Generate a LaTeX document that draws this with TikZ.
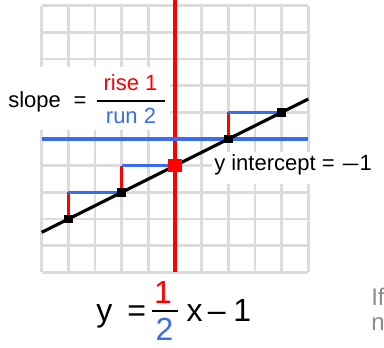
\documentclass[tikz,border=0pt]{standalone}
\usepackage{fontspec}
\setmainfont{Liberation Sans}
\usepackage{tikz}
\usetikzlibrary{positioning}
\usepackage{xcolor}
\definecolor{riseRed}{HTML}{FF0000}
\definecolor{runBlue}{HTML}{3A6BF0}
\definecolor{gridGray}{HTML}{DCDCDC}
\definecolor{noteGray}{HTML}{8C8C8C}

\tikzset{
  pt/.style={fill=black, minimum size=6.5pt, inner sep=0pt},
  hit/.style={fill=riseRed, minimum size=10pt, inner sep=0pt},
  lbl/.style={font=\fontsize{16.5}{18}\selectfont, inner sep=0pt},
  eq/.style={font=\fontsize{24}{26}\selectfont, inner sep=0pt},
  note/.style={font=\fontsize{18}{20}\selectfont, text=noteGray, inner sep=0pt, anchor=base west},
  rise/.style={riseRed, line width=2.3pt},
  run/.style={runBlue, line width=2.3pt},
}

\begin{document}
\begin{tikzpicture}[x=20pt, y=20pt]
    \useasboundingbox (-6.5625,-7.8) rectangle (7.8375,5.2125);
    \clip (-6.5625,-7.8) rectangle (7.8375,5.2125);
    % grid
    \draw[gridGray, line width=2.2pt, step=1] (-5,-5) grid (5,5);
    % white patches behind the labels
    \fill[white] (-6.6,0.3375) rectangle (-0.1875,2.7);
    \fill[white] (1.3875,-1.6875) rectangle (7.9,-0.4875);
    % axes
    \coordinate (ytop) at (0,5.3); \coordinate (ybot) at (0,-5);
    \coordinate (xl) at (-5,0); \coordinate (xr) at (5,0);
    \draw[rise] (ytop)--(ybot);
    \draw[run] (xl)--(xr);
    % points on y = x/2 - 1
    \coordinate (a) at (-4,-3); \coordinate (b) at (-2,-2);
    \coordinate (c) at (0,-1);  \coordinate (d) at (2,0);
    \coordinate (e) at (4,1);
    \coordinate (lstart) at (-5,-3.5); \coordinate (lend) at (5,1.5);
    % rise and run steps
    \draw[rise] (a)--(a |- b); \draw[run] (a |- b)--(b);
    \draw[rise] (b)--(b |- c); \draw[run] (b |- c)--(c);
    \draw[rise] (d)--(d |- e); \draw[run] (d |- e)--(e);
    \draw[line width=2.3pt] (lstart)--(lend);
    \node[pt] (pa) at (a) {}; \node[pt] (pb) at (b) {};
    \node[pt] (pd) at (d) {}; \node[pt] (pe) at (e) {};
    \node[hit] (pc) at (c) {};
    % slope label
    \node[lbl, anchor=base west] (slope) at (-6.26,1.174) {slope\hspace{5pt} =};
    \node[lbl, text=riseRed, anchor=base] (riselbl) at (-1.67,1.8375) {rise 1};
    \node[lbl, text=runBlue, anchor=base] (runlbl) at (-1.65,0.5875) {run 2};
    \draw[line width=2.2pt] (-2.925,1.425)--(-0.375,1.425);
    % intercept label
    \node[lbl, anchor=base west] (icpt) at (1.4625,-1.1625) {y intercept = \hspace{1.5pt}\scalebox{1.27}[1]{–}\hspace{1pt}1};
    % equation
    \node[eq, anchor=base west] (eqy) at (-2.96,-6.85) {y};
    \node[eq, anchor=base west] (eqeq) at (-1.8,-6.85) {=};
    \node[eq, text=riseRed, anchor=base] (eqnum) at (-0.45,-6.15) {1};
    \node[eq, text=runBlue, anchor=base] (eqden) at (-0.39,-7.5375) {2};
    \draw[line width=2.2pt] (-0.8737,-6.45)--(0.1237,-6.45);
    \node[eq, anchor=base west] (eqx) at (0.43,-6.85) {x};
    \node[eq, anchor=base west] (eqminus) at (1.22,-6.85) {–};
    \node[eq, anchor=base west] (eqone) at (2.175,-6.85) {1};
    % cut-off side note
    \node[note] (noteif) at (7.35,-6.225) {If};
    \node[note] (noten) at (7.35,-7.1625) {n};
  \end{tikzpicture}
\end{document}
